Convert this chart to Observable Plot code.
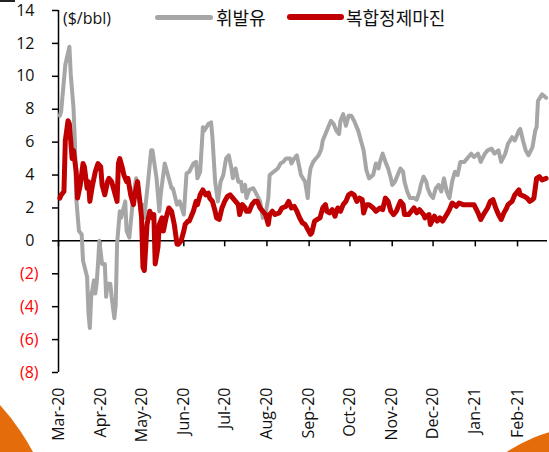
<!DOCTYPE html>
<html>
<head>
<meta charset="utf-8">
<script src="https://cdn.jsdelivr.net/npm/d3@7"></script>
<script src="https://cdn.jsdelivr.net/npm/@observablehq/plot@0.6"></script>
<style>
  html, body { margin: 0; padding: 0; background: #fff; }
  #wrap { position: relative; width: 549px; height: 452px; overflow: hidden; background: #fff; }
  #chart { position: absolute; left: 0; top: 0; z-index: 2; }
  .deco { position: absolute; border-radius: 50%; background: #E46C0A; z-index: 1; }
  .leg { position: absolute; z-index: 3; font-family: "Noto Sans CJK KR", sans-serif; font-size: 18px; color: #111; line-height: 1; white-space: nowrap; }
  .sw { position: absolute; z-index: 3; border-radius: 3px; }
  .unit { position: absolute; z-index: 3; font-family: "Open Sans", sans-serif; font-size: 16px; color: #111; line-height: 1; }
</style>
</head>
<body>
<div id="wrap">
  <div class="deco" style="left:-403px; top:329px; width:463px; height:463px;"></div>
  <div class="deco" style="left:439px; top:426px; width:306px; height:306px;"></div>
  <div style="position:absolute;left:0;top:0;width:15px;height:2px;background:#222;z-index:3;"></div>
  <div id="chart"></div>
  <div class="unit" style="left:63px; top:10px;">($/bbl)</div>
  <div class="sw" style="left:155px; top:15px; width:58px; height:5px; background:#A6A6A6;"></div>
  <div class="leg" style="left:216px; top:8px;">휘발유</div>
  <div class="sw" style="left:287px; top:14px; width:57px; height:6px; background:#C00000;"></div>
  <div class="leg" style="left:346px; top:8px;">복합정제마진</div>
</div>
<script>
const seriesNames = ["휘발유", "복합정제마진"];

const gasDates = ["2020-03-02","2020-03-03","2020-03-06","2020-03-09","2020-03-10","2020-03-12","2020-03-13","2020-03-14","2020-03-16","2020-03-18","2020-03-19","2020-03-22","2020-03-23","2020-03-24","2020-03-25","2020-03-27","2020-03-28","2020-03-29","2020-03-30","2020-03-31","2020-04-02","2020-04-04","2020-04-05","2020-04-06","2020-04-08","2020-04-09","2020-04-11","2020-04-12","2020-04-13","2020-04-15","2020-04-16","2020-04-19","2020-04-20","2020-04-22","2020-04-25","2020-04-27","2020-04-30","2020-05-02","2020-05-03","2020-05-06","2020-05-08","2020-05-09","2020-05-12","2020-05-14","2020-05-15","2020-05-18","2020-05-20","2020-05-23","2020-05-24","2020-05-27","2020-05-29","2020-06-01","2020-06-03","2020-06-05","2020-06-08","2020-06-10","2020-06-11","2020-06-13","2020-06-15","2020-06-16","2020-06-19","2020-06-21","2020-06-22","2020-06-24","2020-06-26","2020-06-28","2020-06-30","2020-07-02","2020-07-04","2020-07-06","2020-07-07","2020-07-09","2020-07-11","2020-07-13","2020-07-14","2020-07-16","2020-07-17","2020-07-19","2020-07-22","2020-07-24","2020-07-27","2020-07-29","2020-07-31","2020-08-02","2020-08-03","2020-08-06","2020-08-09","2020-08-11","2020-08-13","2020-08-15","2020-08-18","2020-08-19","2020-08-21","2020-08-23","2020-08-25","2020-08-26","2020-08-29","2020-08-31","2020-09-01","2020-09-02","2020-09-04","2020-09-06","2020-09-08","2020-09-10","2020-09-11","2020-09-13","2020-09-15","2020-09-17","2020-09-19","2020-09-21","2020-09-23","2020-09-24","2020-09-26","2020-09-28","2020-09-30","2020-10-02","2020-10-04","2020-10-07","2020-10-09","2020-10-11","2020-10-13","2020-10-15","2020-10-18","2020-10-20","2020-10-22","2020-10-23","2020-10-25","2020-10-27","2020-10-29","2020-10-31","2020-11-01","2020-11-03","2020-11-05","2020-11-07","2020-11-09","2020-11-10","2020-11-12","2020-11-14","2020-11-17","2020-11-19","2020-11-21","2020-11-22","2020-11-24","2020-11-26","2020-11-27","2020-11-29","2020-12-01","2020-12-03","2020-12-05","2020-12-07","2020-12-09","2020-12-11","2020-12-13","2020-12-15","2020-12-17","2020-12-19","2020-12-21","2020-12-24","2020-12-26","2020-12-29","2020-12-31","2021-01-03","2021-01-05","2021-01-08","2021-01-10","2021-01-13","2021-01-15","2021-01-18","2021-01-20","2021-01-23","2021-01-25","2021-01-28","2021-01-30","2021-02-02","2021-02-03","2021-02-05","2021-02-07","2021-02-09","2021-02-12","2021-02-14","2021-02-15","2021-02-16","2021-02-19","2021-02-22"];
const gasValues = [7.6,7.9,10.7,11.8,10.1,8.1,6.1,2.6,0.6,0.4,-1.2,-2.2,-4.4,-5.3,-3.4,-2.4,-3.2,-2.6,-1.4,0,-1.4,-1.4,-3.4,-2.6,-2.6,-3.4,-4.7,-3.9,-0.2,1.8,1.4,2.4,0.6,0.2,2.8,3.8,2.2,2.2,1.4,3.8,5.5,5.5,3.8,1.8,2.8,4.7,4.1,3.2,3.2,2.2,2.4,1.6,4.1,4.2,4.7,4.8,3.8,4.2,6.9,6.7,7.1,7.2,6.3,3.6,2.4,3.6,4.0,5.0,5.2,4.4,3.8,4.4,3.6,3.6,3.0,3.4,2.6,3.1,3.2,2.9,2.4,1.4,1.6,2.6,4.0,4.2,4.4,4.7,4.8,5.0,5.0,4.7,5.0,5.2,4.4,4.0,3.6,2.6,3.8,4.4,4.8,5.0,5.2,5.6,6.1,6.5,6.9,7.3,7.1,6.7,6.5,7.3,7.7,7.0,7.6,7.6,7.3,6.7,6.1,5.5,4.3,3.8,4.0,4.7,4.4,4.8,5.3,4.8,4.4,3.8,3.4,3.6,4.0,4.4,4.2,3.6,3.0,2.6,2.6,2.5,3.0,3.4,3.9,3.6,3.2,2.8,2.6,3.2,3.4,3.0,3.8,3.0,2.6,3.6,4.2,4.0,4.8,4.8,5.0,5.3,5.1,5.3,4.8,5.3,5.5,5.6,5.3,5.5,4.8,5.3,5.9,6.3,6.1,6.7,6.8,6.1,5.5,5.2,5.7,6.7,6.9,8.5,8.9,8.7];

const marginDates = ["2020-03-02","2020-03-03","2020-03-05","2020-03-06","2020-03-08","2020-03-09","2020-03-11","2020-03-12","2020-03-14","2020-03-15","2020-03-17","2020-03-19","2020-03-20","2020-03-22","2020-03-23","2020-03-24","2020-03-26","2020-03-28","2020-03-30","2020-04-01","2020-04-02","2020-04-04","2020-04-06","2020-04-07","2020-04-09","2020-04-11","2020-04-13","2020-04-14","2020-04-15","2020-04-17","2020-04-18","2020-04-20","2020-04-21","2020-04-23","2020-04-25","2020-04-26","2020-04-28","2020-04-30","2020-05-01","2020-05-02","2020-05-03","2020-05-05","2020-05-07","2020-05-09","2020-05-10","2020-05-11","2020-05-13","2020-05-14","2020-05-16","2020-05-17","2020-05-19","2020-05-21","2020-05-23","2020-05-25","2020-05-27","2020-05-28","2020-05-30","2020-06-01","2020-06-02","2020-06-04","2020-06-05","2020-06-08","2020-06-10","2020-06-11","2020-06-13","2020-06-15","2020-06-17","2020-06-19","2020-06-20","2020-06-22","2020-06-24","2020-06-25","2020-06-27","2020-06-29","2020-07-01","2020-07-03","2020-07-05","2020-07-07","2020-07-09","2020-07-11","2020-07-12","2020-07-14","2020-07-16","2020-07-17","2020-07-19","2020-07-21","2020-07-23","2020-07-25","2020-07-27","2020-07-29","2020-07-31","2020-08-02","2020-08-03","2020-08-05","2020-08-07","2020-08-10","2020-08-12","2020-08-15","2020-08-17","2020-08-19","2020-08-21","2020-08-23","2020-08-25","2020-08-27","2020-08-29","2020-08-31","2020-09-02","2020-09-03","2020-09-05","2020-09-07","2020-09-09","2020-09-11","2020-09-13","2020-09-14","2020-09-16","2020-09-18","2020-09-20","2020-09-22","2020-09-24","2020-09-26","2020-09-28","2020-09-30","2020-10-02","2020-10-04","2020-10-06","2020-10-08","2020-10-10","2020-10-11","2020-10-13","2020-10-15","2020-10-18","2020-10-20","2020-10-23","2020-10-25","2020-10-27","2020-10-29","2020-10-31","2020-11-02","2020-11-04","2020-11-07","2020-11-09","2020-11-10","2020-11-13","2020-11-15","2020-11-17","2020-11-19","2020-11-21","2020-11-24","2020-11-25","2020-11-28","2020-11-29","2020-12-02","2020-12-04","2020-12-06","2020-12-08","2020-12-11","2020-12-13","2020-12-15","2020-12-18","2020-12-20","2020-12-23","2020-12-26","2020-12-29","2020-12-31","2021-01-03","2021-01-05","2021-01-07","2021-01-10","2021-01-12","2021-01-14","2021-01-16","2021-01-18","2021-01-20","2021-01-22","2021-01-24","2021-01-25","2021-01-28","2021-01-30","2021-02-02","2021-02-03","2021-02-06","2021-02-08","2021-02-10","2021-02-12","2021-02-13","2021-02-15","2021-02-17","2021-02-19","2021-02-22"];
const marginValues = [2.6,2.8,3.0,6.1,7.3,7.1,5.0,5.5,4.2,2.6,3.4,4.7,4.5,3.2,3.6,2.4,3.4,4.2,4.7,4.5,3.4,2.8,3.6,3.8,3.6,3.0,2.4,4.7,5.0,4.4,4.0,3.6,3.8,2.8,2.2,2.8,3.6,2.2,1.4,-1.6,-1.8,1.0,1.8,1.4,1.6,-1.4,-0.4,1.0,1.4,0.6,1.4,2.0,1.8,1.0,-0.2,-0.2,0,0.6,1.0,1.2,1.2,1.8,2.4,2.2,2.8,3.1,2.8,2.9,2.6,2.4,1.8,1.4,1.3,2.0,2.4,2.7,2.8,2.6,2.4,2.2,1.6,2.2,2.0,1.8,1.8,2.2,2.4,2.4,2.0,1.8,1.6,1.0,1.6,1.8,1.6,1.7,2.0,2.1,2.4,2.0,2.1,1.8,1.4,1.1,1.0,0.7,0.4,0.5,1.2,1.3,1.4,2.0,2.2,1.8,1.7,1.9,1.5,2.0,1.8,2.2,2.4,2.8,2.9,2.8,2.4,2.6,2.5,1.7,2.2,2.2,2.0,1.8,2.0,1.9,2.6,2.4,1.8,1.6,1.8,2.4,2.2,1.6,1.6,1.8,2.0,1.7,1.9,1.6,1.4,1.6,1.0,1.5,1.2,1.4,1.2,1.6,1.9,2.3,2.1,2.3,2.2,2.2,2.2,2.2,1.7,1.3,1.6,2.0,2.4,2.5,2.0,1.6,1.3,1.7,2.0,2.2,2.4,2.8,3.1,2.8,2.7,2.6,2.4,2.5,2.6,3.8,3.9,3.7,3.8];

const monthTicks = ["2020-03-01","2020-04-01","2020-05-01","2020-06-01","2020-07-01","2020-08-01","2020-09-01","2020-10-01","2020-11-01","2020-12-01","2021-01-01","2021-02-01"];
const monthLabels = ["Mar-20","Apr-20","May-20","Jun-20","Jul-20","Aug-20","Sep-20","Oct-20","Nov-20","Dec-20","Jan-21","Feb-21"];
const xDomain = ["2020-03-01", "2021-02-23"];
const yDomain = [-8, 14];
const yTicksPos = [0, 2, 4, 6, 8, 10, 12, 14];
const yTicksNeg = [-2, -4, -6, -8];

const gas = gasDates.map((d, i) => ({date: new Date(d), value: gasValues[i], series: seriesNames[0]}));
const margin = marginDates.map((d, i) => ({date: new Date(d), value: marginValues[i], series: seriesNames[1]}));
const tickDates = monthTicks.map(d => new Date(d));
const labelOf = new Map(tickDates.map((d, i) => [+d, monthLabels[i]]));

const chart = Plot.plot({
  width: 549,
  height: 452,
  marginLeft: 58,
  marginRight: 2,
  marginTop: 10,
  marginBottom: 80,
  style: {fontFamily: "'Open Sans', sans-serif", fontSize: "16px", color: "#111", background: "transparent", overflow: "visible"},
  x: {type: "utc", domain: xDomain.map(d => new Date(d))},
  y: {domain: yDomain},
  marks: [
    Plot.ruleY([0], {stroke: "#000", strokeWidth: 1.5}),
    Plot.ruleX([new Date(xDomain[0])], {stroke: "#000", strokeWidth: 1.5}),
    Plot.ruleX(tickDates, {x: d => d, y1: 0, y2: 0, insetBottom: -6, stroke: "#000", strokeWidth: 1.5}),
    Plot.axisY({ticks: yTicksPos, tickSize: 6, tickPadding: 18, tickFormat: d => `${d}`, stroke: "#000", strokeWidth: 1.5, fill: "#111", label: null}),
    Plot.axisY({ticks: yTicksNeg, tickSize: 6, tickPadding: 14, tickFormat: d => `(${Math.abs(d)})`, stroke: "#000", strokeWidth: 1.5, fill: "#FF0000", label: null}),
    Plot.line(gas, {x: "date", y: "value", stroke: "#A6A6A6", strokeWidth: 4}),
    Plot.line(margin, {x: "date", y: "value", stroke: "#C00000", strokeWidth: 5}),
    Plot.axisX({ticks: tickDates, tickSize: 0, tickPadding: 15, tickRotate: -90, tickFormat: d => labelOf.get(+d), fill: "#111", label: null, anchor: "bottom"})
  ]
});
document.getElementById("chart").appendChild(chart);
</script>
</body>
</html>
